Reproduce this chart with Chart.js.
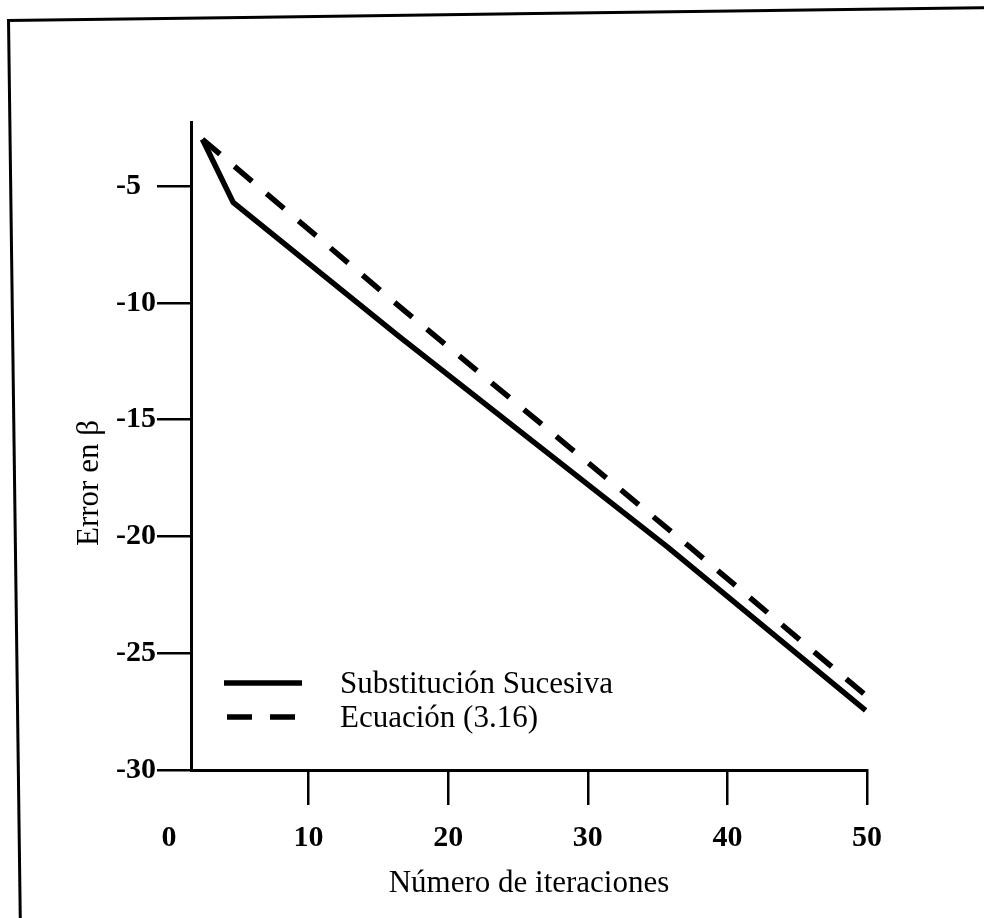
<!DOCTYPE html>
<html lang="es">
<head>
<meta charset="UTF-8">
<title>Error en β</title>
<script src="https://cdn.jsdelivr.net/npm/chart.js@4.4.0/dist/chart.umd.min.js"></script>
<style>
  html, body { margin: 0; padding: 0; background: #fff; }
  .wrap { position: relative; width: 984px; height: 918px; overflow: hidden; }
  #js-chart { position: absolute; left: 0; top: 0; }
  .frame {
    position: absolute; left: 7px; top: 19px; width: 1010px; height: 940px;
    border-left: 3px solid #000; border-top: 3px solid #000;
    transform-origin: 0 0; transform: rotate(-0.75deg);
  }
  .y-title {
    position: absolute; left: 88px; top: 483px;
    transform: translate(-50%, -50%) rotate(-90deg);
    font: 31px "Liberation Serif", "Times New Roman", serif; white-space: nowrap;
  }
  .legend {
    position: absolute; left: 224px; top: 666px; margin: 0; padding: 0; list-style: none;
    font: 31px "Liberation Serif", "Times New Roman", serif;
  }
  .legend li { display: flex; align-items: center; height: 34px; }
  .legend svg { width: 78px; height: 8px; margin-right: 38px; }
</style>
</head>
<body>
<div class="wrap">
  <canvas id="js-chart" width="984" height="918"></canvas>
  <div class="frame"></div>
  <div class="y-title">Error en β</div>
  <ul class="legend" id="js-legend"></ul>
</div>
<script>
"use strict";

// datos
const iterSS = [2.4, 4.6, 16.5, 35.7, 49.9];
const errSS = [-3.0, -5.7, -11.45, -20.45, -27.45];
const iterEc = [2.4, 16.5, 37.3, 49.9];
const errEc = [-3.0, -10.15, -20.45, -26.8];
const seriesLabels = ["Substitución Sucesiva", "Ecuación (3.16)"];
const xTickValues = [0, 10, 20, 30, 40, 50];
const yTickValues = [-30, -25, -20, -15, -10, -5];

const serif = "'Liberation Serif', 'Times New Roman', serif";
const dashPattern = [23, 19];

function toPoints(xs, ys) {
  return xs.map((x, i) => ({ x: x, y: ys[i] }));
}

const ctx = document.getElementById("js-chart").getContext("2d");
const chart = new Chart(ctx, {
  type: "line",
  data: {
    datasets: [
      {
        label: seriesLabels[0],
        data: toPoints(iterSS, errSS),
        borderColor: "#000",
        borderWidth: 5.5,
        borderJoinStyle: "round",
        pointRadius: 0,
        tension: 0,
      },
      {
        label: seriesLabels[1],
        data: toPoints(iterEc, errEc),
        borderColor: "#000",
        borderWidth: 5.5,
        borderDash: dashPattern,
        pointRadius: 0,
        tension: 0,
      },
    ],
  },
  options: {
    responsive: false,
    animation: false,
    layout: {
      padding: { left: 116, right: 117, top: 122, bottom: 0 },
    },
    scales: {
      x: {
        type: "linear",
        //el eje y corta en x = 1.58
        min: 1.58,
        max: 50,
        afterBuildTicks: (scale) => {
          scale.ticks = xTickValues.map((v) => ({ value: v }));
        },
        afterFit: (scale) => {
          scale.height = 148;
        },
        grid: {
          drawOnChartArea: false,
          tickLength: 35,
          lineWidth: 2.5,
          //sin marca en 0
          color: (c) => (c.tick && c.tick.value === 0 ? "rgba(0,0,0,0)" : "#000"),
        },
        border: { display: true, color: "#000", width: 3 },
        ticks: {
          color: "#000",
          padding: 15,
          autoSkip: false,
          maxRotation: 0,
          font: { family: serif, size: 30, weight: "bold" },
        },
        title: {
          display: true,
          text: "Número de iteraciones",
          color: "#000",
          font: { family: serif, size: 31 },
          padding: { top: 0, bottom: 16 },
        },
      },
      y: {
        type: "linear",
        position: "left",
        min: -30,
        max: -2.26,
        afterBuildTicks: (scale) => {
          scale.ticks = yTickValues.map((v) => ({ value: v }));
        },
        afterFit: (scale) => {
          scale.width = 75;
        },
        grid: {
          drawOnChartArea: false,
          tickLength: 34,
          lineWidth: 2.5,
          color: "#000",
        },
        border: { display: true, color: "#000", width: 3 },
        ticks: {
          color: "#000",
          padding: 0,
          crossAlign: "far",
          font: { family: serif, size: 30, weight: "bold" },
        },
      },
    },
    plugins: {
      legend: { display: false },
      tooltip: { enabled: false },
    },
  },
});

function createLegend(labels, appendArea) {
  for (let i = 0; i < labels.length; i++) {
    const li = document.createElement("li");
    const dash = i === 1 ? ` stroke-dasharray="25 18"` : "";
    const x1 = i === 1 ? 3 : 0;
    li.innerHTML = `<svg viewBox="0 0 78 8"><line x1="${x1}" y1="4" x2="78" y2="4" stroke="#000" stroke-width="5.5"${dash}/></svg><span>${labels[i]}</span>`;
    appendArea.appendChild(li);
  }
}
createLegend(seriesLabels, document.getElementById("js-legend"));
</script>
</body>
</html>
